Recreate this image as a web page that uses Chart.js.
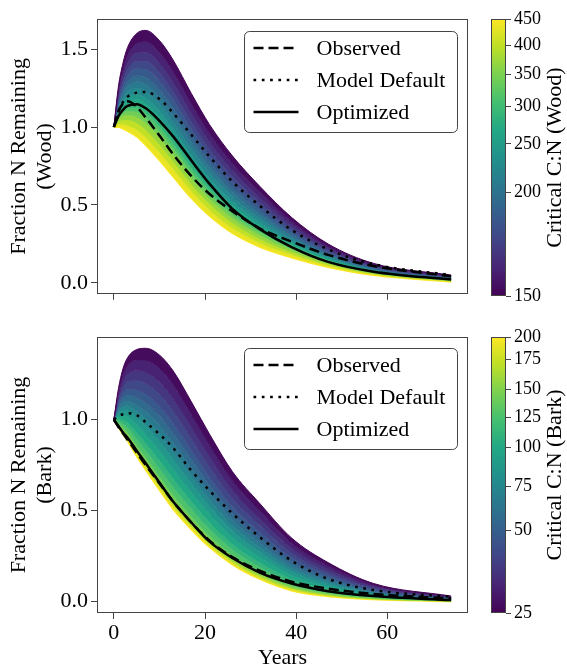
<!DOCTYPE html>
<html>
<head>
<meta charset="utf-8">
<script src="https://cdn.jsdelivr.net/npm/chart.js@4.4.0/dist/chart.umd.min.js"></script>
<style>
  body { margin: 0; background: #fff; }
  #wrap { position: relative; width: 567px; height: 667px; overflow: hidden; }
  canvas { position: absolute; }
</style>
</head>
<body>
<div id="wrap">
  <canvas id="woodMain" width="480" height="310" style="left:0;top:0"></canvas>
  <canvas id="woodBar" width="97" height="310" style="left:470px;top:0"></canvas>
  <canvas id="barkMain" width="480" height="349" style="left:0;top:318px"></canvas>
  <canvas id="barkBar" width="97" height="349" style="left:470px;top:318px"></canvas>
</div>
<script>
// time axis (years) shared by every curve
const years = [0, 1, 2, 3, 5, 7, 10, 13, 17, 21, 26, 32, 39, 47, 57, 74];
const yearTicks = [0, 20, 40, 60];

// position of each fan curve on the colour scale (0 = purple, 1 = yellow)
const fanLevels = [0, 0.0625, 0.125, 0.1875, 0.25, 0.3125, 0.375, 0.4375, 0.5,
                   0.5625, 0.625, 0.6875, 0.75, 0.8125, 0.875, 0.9375, 1];

// --- Wood: fan of model runs, low C:N (top) to high C:N (bottom)
const wood0  = [1, 1.26, 1.41, 1.51, 1.60, 1.62, 1.555, 1.43, 1.215, 1.015, 0.815, 0.62, 0.42, 0.25, 0.125, 0.05];
const wood1  = [1, 1.234, 1.368, 1.457, 1.534, 1.547, 1.478, 1.355, 1.148, 0.957, 0.766, 0.581, 0.394, 0.235, 0.118, 0.046];
const wood2  = [1, 1.211, 1.33, 1.408, 1.475, 1.48, 1.409, 1.288, 1.088, 0.904, 0.721, 0.546, 0.371, 0.222, 0.111, 0.042];
const wood3  = [1, 1.19, 1.297, 1.366, 1.422, 1.422, 1.348, 1.228, 1.034, 0.857, 0.681, 0.515, 0.351, 0.21, 0.105, 0.039];
const wood4  = [1, 1.172, 1.267, 1.328, 1.376, 1.37, 1.294, 1.176, 0.987, 0.816, 0.647, 0.488, 0.333, 0.20, 0.10, 0.036];
const wood5  = [1, 1.153, 1.238, 1.291, 1.329, 1.319, 1.241, 1.124, 0.94, 0.775, 0.612, 0.461, 0.315, 0.189, 0.094, 0.033];
const wood6  = [1, 1.138, 1.213, 1.259, 1.29, 1.275, 1.195, 1.079, 0.90, 0.74, 0.582, 0.438, 0.299, 0.18, 0.09, 0.03];
const wood7  = [1, 1.122, 1.187, 1.226, 1.25, 1.23, 1.148, 1.034, 0.86, 0.705, 0.553, 0.414, 0.284, 0.172, 0.085, 0.028];
const wood8  = [1, 1.107, 1.162, 1.194, 1.211, 1.186, 1.102, 0.989, 0.82, 0.67, 0.523, 0.391, 0.268, 0.163, 0.081, 0.025];
const wood9  = [1, 1.094, 1.141, 1.168, 1.178, 1.15, 1.064, 0.952, 0.786, 0.641, 0.498, 0.372, 0.256, 0.155, 0.077, 0.023];
const wood10 = [1, 1.083, 1.124, 1.146, 1.151, 1.12, 1.033, 0.922, 0.759, 0.617, 0.478, 0.356, 0.245, 0.149, 0.074, 0.021];
const wood11 = [1, 1.073, 1.108, 1.125, 1.125, 1.091, 1.003, 0.892, 0.733, 0.594, 0.459, 0.341, 0.235, 0.143, 0.071, 0.02];
const wood12 = [1, 1.062, 1.091, 1.103, 1.098, 1.061, 0.972, 0.862, 0.706, 0.57, 0.439, 0.325, 0.225, 0.138, 0.068, 0.018];
const wood13 = [1, 1.049, 1.07, 1.077, 1.065, 1.025, 0.934, 0.825, 0.672, 0.541, 0.414, 0.306, 0.212, 0.13, 0.064, 0.016];
const wood14 = [1, 1.034, 1.045, 1.045, 1.026, 0.981, 0.888, 0.78, 0.632, 0.506, 0.384, 0.282, 0.196, 0.121, 0.06, 0.013];
const wood15 = [1, 1.017, 1.017, 1.01, 0.983, 0.933, 0.838, 0.732, 0.589, 0.468, 0.352, 0.257, 0.18, 0.112, 0.055, 0.011];
const wood16 = [1, 1.0, 0.99, 0.975, 0.94, 0.885, 0.788, 0.683, 0.545, 0.43, 0.32, 0.232, 0.163, 0.102, 0.05, 0.008];

const woodObserved  = [1, 1.10, 1.15, 1.165, 1.13, 1.06, 0.945, 0.825, 0.685, 0.57, 0.46, 0.35, 0.265, 0.18, 0.108, 0.043];
const woodDefault   = [1, 1.10, 1.16, 1.195, 1.22, 1.225, 1.18, 1.09, 0.95, 0.81, 0.65, 0.495, 0.34, 0.215, 0.12, 0.05];
const woodOptimized = [1, 1.07, 1.11, 1.135, 1.146, 1.12, 1.04, 0.94, 0.785, 0.635, 0.475, 0.345, 0.23, 0.135, 0.072, 0.021];

// --- Bark
const bark0  = [1, 1.17, 1.28, 1.34, 1.385, 1.392, 1.355, 1.268, 1.098, 0.92, 0.715, 0.54, 0.35, 0.215, 0.10, 0.031];
const bark1  = [1, 1.149, 1.244, 1.295, 1.327, 1.325, 1.281, 1.192, 1.028, 0.858, 0.664, 0.499, 0.321, 0.197, 0.091, 0.028];
const bark2  = [1, 1.128, 1.208, 1.249, 1.268, 1.259, 1.207, 1.116, 0.958, 0.796, 0.613, 0.457, 0.292, 0.178, 0.083, 0.025];
const bark3  = [1, 1.109, 1.176, 1.208, 1.215, 1.199, 1.14, 1.048, 0.895, 0.74, 0.567, 0.42, 0.266, 0.161, 0.075, 0.023];
const bark4  = [1, 1.09, 1.143, 1.167, 1.163, 1.139, 1.074, 0.98, 0.832, 0.684, 0.521, 0.382, 0.241, 0.145, 0.067, 0.02];
const bark5  = [1, 1.076, 1.118, 1.135, 1.122, 1.092, 1.022, 0.927, 0.783, 0.641, 0.486, 0.353, 0.22, 0.132, 0.061, 0.018];
const bark6  = [1, 1.061, 1.093, 1.103, 1.081, 1.045, 0.97, 0.874, 0.734, 0.598, 0.45, 0.324, 0.20, 0.119, 0.055, 0.016];
const bark7  = [1, 1.048, 1.071, 1.076, 1.046, 1.005, 0.926, 0.828, 0.692, 0.56, 0.419, 0.299, 0.183, 0.108, 0.05, 0.014];
const bark8  = [1, 1.036, 1.05, 1.049, 1.011, 0.965, 0.881, 0.783, 0.65, 0.523, 0.389, 0.274, 0.166, 0.097, 0.044, 0.012];
const bark9  = [1, 1.021, 1.024, 1.017, 0.97, 0.918, 0.83, 0.73, 0.601, 0.48, 0.353, 0.245, 0.146, 0.084, 0.038, 0.01];
const bark10 = [1, 1.006, 0.999, 0.985, 0.929, 0.872, 0.778, 0.677, 0.552, 0.436, 0.317, 0.216, 0.125, 0.071, 0.032, 0.008];
const bark11 = [1, 0.994, 0.978, 0.958, 0.894, 0.832, 0.733, 0.631, 0.51, 0.399, 0.287, 0.191, 0.108, 0.06, 0.027, 0.007];
const bark12 = [1, 0.981, 0.956, 0.931, 0.859, 0.792, 0.689, 0.586, 0.468, 0.362, 0.256, 0.167, 0.091, 0.049, 0.022, 0.005];
const bark13 = [1, 0.975, 0.945, 0.917, 0.841, 0.772, 0.667, 0.563, 0.447, 0.343, 0.241, 0.154, 0.082, 0.043, 0.019, 0.004];
const bark14 = [1, 0.968, 0.934, 0.903, 0.823, 0.752, 0.645, 0.54, 0.426, 0.325, 0.225, 0.142, 0.074, 0.037, 0.016, 0.003];
const bark15 = [1, 0.964, 0.927, 0.894, 0.812, 0.738, 0.63, 0.525, 0.412, 0.312, 0.215, 0.133, 0.068, 0.034, 0.015, 0.003];
const bark16 = [1, 0.96, 0.92, 0.885, 0.80, 0.725, 0.615, 0.51, 0.398, 0.30, 0.205, 0.125, 0.062, 0.03, 0.013, 0.002];

const barkObserved  = [1, 0.96, 0.925, 0.89, 0.82, 0.75, 0.65, 0.55, 0.435, 0.335, 0.245, 0.17, 0.11, 0.072, 0.042, 0.018];
const barkDefault   = [1, 1.02, 1.03, 1.035, 1.025, 0.985, 0.92, 0.845, 0.72, 0.61, 0.485, 0.355, 0.225, 0.125, 0.064, 0.027];
const barkOptimized = [1, 0.965, 0.93, 0.90, 0.83, 0.76, 0.655, 0.55, 0.435, 0.33, 0.24, 0.16, 0.10, 0.058, 0.031, 0.009];

// y tick labels
const woodYTicks = [0, 0.5, 1.0, 1.5];
const barkYTicks = [0, 0.5, 1.0];

// colour bars: tick labels and where they sit on the colour scale
const woodCbarTicks = [150, 200, 250, 300, 350, 400, 450];
const woodCbarLevels = [0, 0.375, 0.549, 0.684, 0.80, 0.905, 1];
const barkCbarTicks = [25, 50, 75, 100, 125, 150, 175, 200];
const barkCbarLevels = [0, 0.30, 0.46, 0.60, 0.71, 0.81, 0.92, 1];

const viridis = ['#440154', '#482475', '#414487', '#355f8d', '#2a788e', '#21918c',
                 '#22a884', '#44bf70', '#7ad151', '#bddf26', '#fde725'];

function hexRgb(h) {
  return [1, 3, 5].map(i => parseInt(h.slice(i, i + 2), 16));
}
function cmap(f) {
  const p = Math.min(Math.max(f, 0), 1) * (viridis.length - 1);
  const i = Math.min(Math.floor(p), viridis.length - 2);
  const t = p - i;
  const a = hexRgb(viridis[i]), b = hexRgb(viridis[i + 1]);
  const c = a.map((v, k) => Math.round(v + (b[k] - v) * t));
  return `rgb(${c[0]},${c[1]},${c[2]})`;
}

Chart.defaults.font.family = '"Liberation Serif", "Times New Roman", serif';
Chart.defaults.font.size = 22;
Chart.defaults.color = '#000';

const toXY = arr => years.map((x, i) => ({ x: x, y: arr[i] }));

function fanSets(curves) {
  return curves.map((c, i) => {
    const last = i === curves.length - 1;
    return {
      label: '',
      data: toXY(c),
      borderColor: cmap(fanLevels[i]),
      borderWidth: last ? 2 : 1,
      backgroundColor: last ? 'transparent' : cmap((fanLevels[i] + fanLevels[i + 1]) / 2),
      fill: last ? false : '+1',
      pointRadius: 0,
      cubicInterpolationMode: 'monotone'
    };
  });
}

function blackSets(obs, def, opt) {
  const base = { borderColor: '#000', borderWidth: 2.5, pointRadius: 0, fill: false, cubicInterpolationMode: 'monotone' };
  return [
    Object.assign({ label: 'Observed', data: toXY(obs), borderDash: [10, 5] }, base),
    Object.assign({ label: 'Model Default', data: toXY(def), borderDash: [2.7, 5.6] }, base),
    Object.assign({ label: 'Optimized', data: toXY(opt) }, base)
  ];
}

// box round the plot area (matplotlib spines)
const frame = {
  id: 'frame',
  afterDraw(chart) {
    const { ctx, chartArea: a } = chart;
    ctx.save();
    ctx.strokeStyle = '#444';
    ctx.lineWidth = 1;
    ctx.strokeRect(Math.round(a.left) + 0.5, Math.round(a.top) + 0.5,
                   Math.round(a.right - a.left) - 1, Math.round(a.bottom - a.top) - 1);
    ctx.restore();
  }
};

// legend with a rounded frame inside the plot, upper right
const boxLegend = {
  id: 'boxLegend',
  afterDraw(chart, args, opts) {
    const { ctx, chartArea: a } = chart;
    const w = 213, h = 101, r = 5;
    const x0 = a.right - 11 - w + 0.5, y0 = a.top + opts.top + 0.5;
    ctx.save();
    ctx.beginPath();
    ctx.moveTo(x0 + r, y0);
    ctx.arcTo(x0 + w, y0, x0 + w, y0 + h, r);
    ctx.arcTo(x0 + w, y0 + h, x0, y0 + h, r);
    ctx.arcTo(x0, y0 + h, x0, y0, r);
    ctx.arcTo(x0, y0, x0 + w, y0, r);
    ctx.closePath();
    ctx.fillStyle = 'rgba(255,255,255,0.85)';
    ctx.fill();
    ctx.strokeStyle = '#444';
    ctx.lineWidth = 1;
    ctx.stroke();
    chart.data.datasets.filter(d => d.label).forEach((d, i) => {
      const y = y0 + 16.5 + i * 32;
      ctx.strokeStyle = d.borderColor;
      ctx.lineWidth = d.borderWidth;
      ctx.setLineDash(d.borderDash || []);
      ctx.beginPath();
      ctx.moveTo(x0 + 9, y);
      ctx.lineTo(x0 + 54, y);
      ctx.stroke();
      ctx.setLineDash([]);
      ctx.fillStyle = '#000';
      ctx.font = '22px "Liberation Serif", "Times New Roman", serif';
      ctx.textBaseline = 'middle';
      ctx.fillText(d.label, x0 + 72, y + 1);
    });
    ctx.restore();
  }
};

function mainChart(id, fan, black, yMin, yMax, yTicks, yTitle, bottomAxis) {
  return new Chart(document.getElementById(id), {
    type: 'line',
    data: { datasets: black.concat(fan) },
    options: {
      responsive: false,
      animation: false,
      events: [],
      devicePixelRatio: 1,
      layout: { padding: { left: 0, right: 12, top: 19, bottom: 0 } },
      plugins: {
        legend: { display: false },
        tooltip: { enabled: false },
        boxLegend: { top: bottomAxis ? 11 : 12 }
      },
      scales: {
        x: {
          type: 'linear',
          min: -3.7,
          max: 77.7,
          afterBuildTicks: s => { s.ticks = yearTicks.map(v => ({ value: v })); },
          afterFit: s => { s.height = bottomAxis ? 54 : 14; },
          grid: { drawOnChartArea: false, drawTicks: true, tickLength: 6, color: '#444' },
          border: { display: false },
          ticks: { display: bottomAxis, padding: 1, autoSkip: false, maxRotation: 0 },
          title: bottomAxis
            ? { display: true, text: 'Years', font: { size: 22, lineHeight: 0.8 }, padding: 0 }
            : { display: false }
        },
        y: {
          type: 'linear',
          min: yMin,
          max: yMax,
          afterBuildTicks: s => { s.ticks = yTicks.map(v => ({ value: v })); },
          afterFit: s => { s.width = 97; },
          grid: { drawOnChartArea: false, drawTicks: true, tickLength: 6, color: '#444' },
          border: { display: false },
          ticks: { padding: 3, autoSkip: false, callback: v => v.toFixed(1) },
          title: { display: true, text: yTitle, font: { size: 22, lineHeight: 1.2 }, padding: { top: 6, bottom: 0 } }
        }
      }
    },
    plugins: [frame, boxLegend]
  });
}

// colour bar: gradient, ticks on the right and a rotated label
function colourBar(id, labels, levels, title, bottomPad) {
  const bar = {
    id: 'bar',
    beforeDatasetsDraw(chart) {
      const { ctx, chartArea: a } = chart;
      const g = ctx.createLinearGradient(0, a.bottom, 0, a.top);
      viridis.forEach((c, i) => g.addColorStop(i / (viridis.length - 1), c));
      ctx.save();
      ctx.fillStyle = g;
      ctx.fillRect(a.left, a.top, a.right - a.left, a.bottom - a.top);
      ctx.strokeStyle = '#444';
      ctx.lineWidth = 1;
      ctx.strokeRect(Math.round(a.left) + 0.5, Math.round(a.top) + 0.5,
                     Math.round(a.right - a.left) - 1, Math.round(a.bottom - a.top) - 1);
      ctx.translate(85, (a.top + a.bottom) / 2);
      ctx.rotate(-Math.PI / 2);
      ctx.fillStyle = '#000';
      ctx.font = '22px "Liberation Serif", "Times New Roman", serif';
      ctx.textAlign = 'center';
      ctx.textBaseline = 'middle';
      ctx.fillText(title, 0, 0);
      ctx.restore();
    }
  };
  return new Chart(document.getElementById(id), {
    type: 'scatter',
    data: { datasets: [] },
    options: {
      responsive: false,
      animation: false,
      events: [],
      devicePixelRatio: 1,
      layout: { padding: { left: 21, right: 0, top: 19, bottom: bottomPad } },
      plugins: { legend: { display: false }, tooltip: { enabled: false } },
      scales: {
        x: { display: false, min: 0, max: 1 },
        y: {
          type: 'linear',
          position: 'right',
          min: 0,
          max: 1,
          afterBuildTicks: s => { s.ticks = levels.map(v => ({ value: v })); },
          afterFit: s => { s.width = 61; },
          grid: { drawOnChartArea: false, drawTicks: true, tickLength: 5, color: '#444' },
          border: { display: false },
          ticks: { font: { size: 18 }, padding: 3, autoSkip: false, callback: (v, i) => String(labels[i]) }
        }
      }
    },
    plugins: [bar]
  });
}

mainChart('woodMain',
  fanSets([wood0, wood1, wood2, wood3, wood4, wood5, wood6, wood7, wood8,
           wood9, wood10, wood11, wood12, wood13, wood14, wood15, wood16]),
  blackSets(woodObserved, woodDefault, woodOptimized),
  -0.07, 1.693, woodYTicks, ['Fraction N Remaining', '(Wood)'], false);

mainChart('barkMain',
  fanSets([bark0, bark1, bark2, bark3, bark4, bark5, bark6, bark7, bark8,
           bark9, bark10, bark11, bark12, bark13, bark14, bark15, bark16]),
  blackSets(barkObserved, barkDefault, barkOptimized),
  -0.062, 1.454, barkYTicks, ['Fraction N Remaining', '(Bark)'], true);

colourBar('woodBar', woodCbarTicks, woodCbarLevels, 'Critical C:N (Wood)', 14);
colourBar('barkBar', barkCbarTicks, barkCbarLevels, 'Critical C:N (Bark)', 54);
</script>
</body>
</html>
